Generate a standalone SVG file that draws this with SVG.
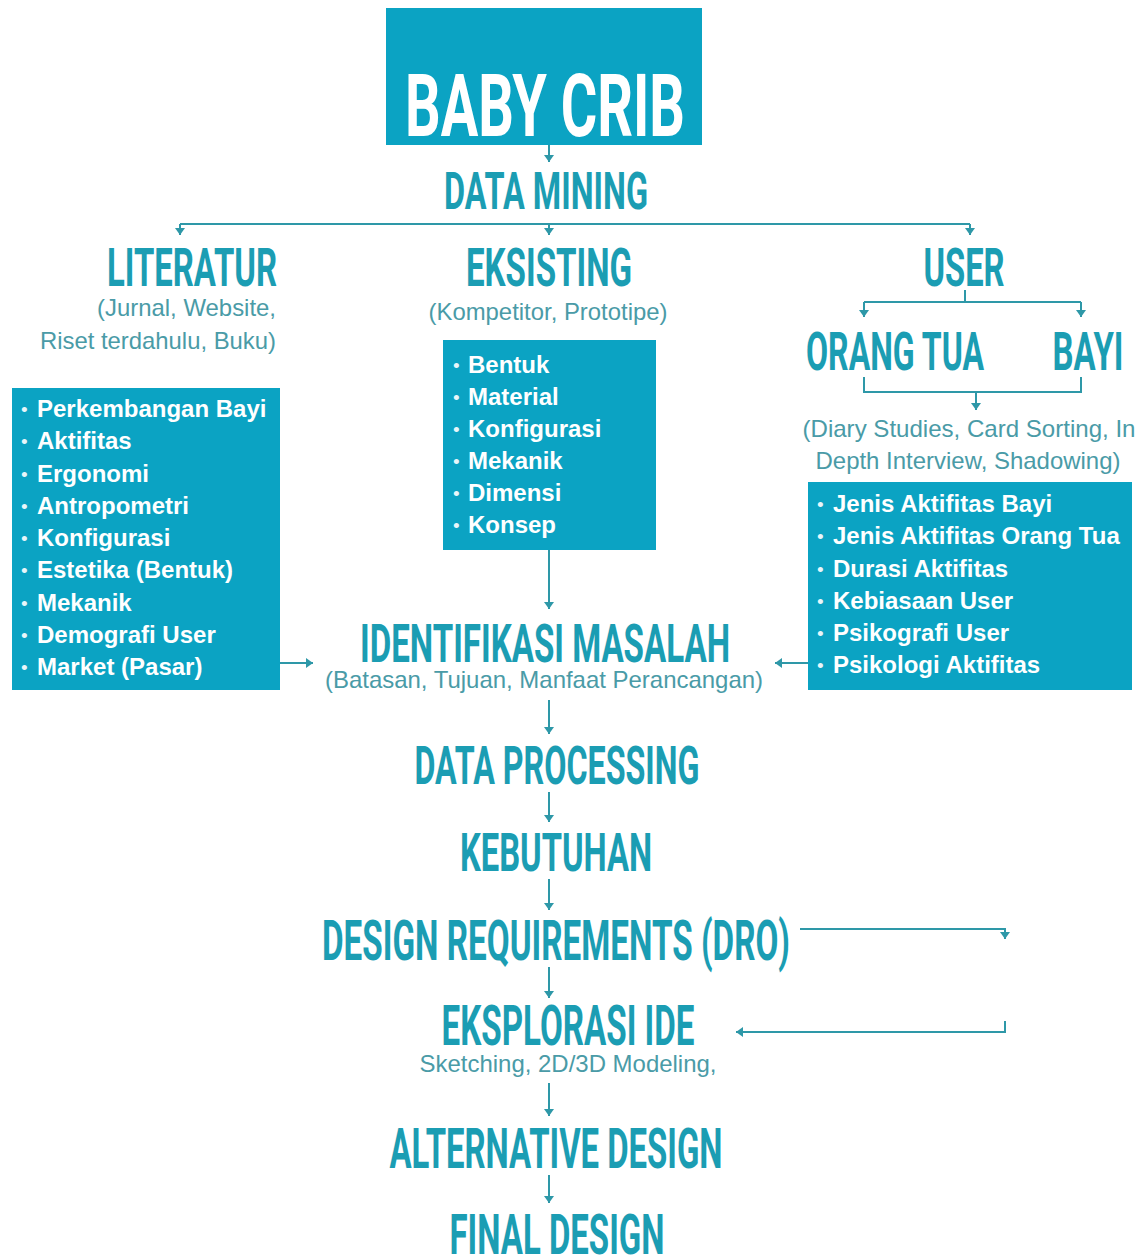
<svg xmlns="http://www.w3.org/2000/svg" width="1144" height="1258" viewBox="0 0 1144 1258">
  <style>
    .box { fill: #0ba3c3; }
    .head { font-family: Roboto, "Liberation Sans", sans-serif; font-weight: 700; fill: #1b9db3; text-anchor: middle; }
    .title { font-family: Roboto, "Liberation Sans", sans-serif; font-weight: 700; fill: #ffffff; text-anchor: middle; }
    .sub { font-family: "Liberation Sans", Arial, sans-serif; font-size: 24px; fill: #4a9ba7; }
    .item { font-family: "Liberation Sans", Arial, sans-serif; font-weight: 700; font-size: 24px; fill: #ffffff; }
    .dot { font-family: "Liberation Sans", Arial, sans-serif; font-size: 19px; fill: #e8f6fa; }
    .conn { fill: none; stroke: #2e98a8; stroke-width: 2; }
  </style>
  <defs>
    <marker id="ah" viewBox="0 0 7 10" refX="7" refY="5" markerWidth="7" markerHeight="10" orient="auto" markerUnits="userSpaceOnUse">
      <path d="M0,0 L7,5 L0,10 z" fill="#2e98a8"/>
    </marker>
  </defs>

  <rect width="1144" height="1258" fill="#ffffff"/>

  <!-- top node -->
  <g id="baby-crib">
    <rect class="box" x="386" y="8" width="316" height="137"/>
    <text class="title" x="545" y="136" font-size="88" textLength="280" lengthAdjust="spacingAndGlyphs">BABY CRIB</text>
  </g>

  <g id="data-mining">
    <text class="head" x="546" y="209" font-size="52" textLength="204" lengthAdjust="spacingAndGlyphs">DATA MINING</text>
  </g>

  <!-- literature branch -->
  <g id="literatur">
    <text class="head" x="192" y="286" font-size="53" textLength="170" lengthAdjust="spacingAndGlyphs">LITERATUR</text>
    <text class="sub" x="276" y="316" text-anchor="end" textLength="179" lengthAdjust="spacingAndGlyphs">(Jurnal, Website,</text>
    <text class="sub" x="276" y="349" text-anchor="end" textLength="236" lengthAdjust="spacingAndGlyphs">Riset terdahulu, Buku)</text>
  </g>
  <g id="literatur-list">
    <rect class="box" x="12" y="388" width="268" height="302"/>
    <g class="dot">
      <text x="21" y="416">•</text><text x="21" y="448">•</text><text x="21" y="481">•</text>
      <text x="21" y="513">•</text><text x="21" y="545">•</text><text x="21" y="577">•</text>
      <text x="21" y="610">•</text><text x="21" y="642">•</text><text x="21" y="674">•</text>
    </g>
    <text class="item" x="37" y="417">Perkembangan Bayi</text>
    <text class="item" x="37" y="449">Aktifitas</text>
    <text class="item" x="37" y="482">Ergonomi</text>
    <text class="item" x="37" y="514">Antropometri</text>
    <text class="item" x="37" y="546">Konfigurasi</text>
    <text class="item" x="37" y="578">Estetika (Bentuk)</text>
    <text class="item" x="37" y="611">Mekanik</text>
    <text class="item" x="37" y="643">Demografi User</text>
    <text class="item" x="37" y="675">Market (Pasar)</text>
  </g>

  <!-- existing products branch -->
  <g id="eksisting">
    <text class="head" x="549" y="286" font-size="53" textLength="166" lengthAdjust="spacingAndGlyphs">EKSISTING</text>
    <text class="sub" x="548" y="320" text-anchor="middle" textLength="239" lengthAdjust="spacingAndGlyphs">(Kompetitor, Prototipe)</text>
  </g>
  <g id="eksisting-list">
    <rect class="box" x="443" y="340" width="213" height="210"/>
    <g class="dot">
      <text x="453" y="372">•</text><text x="453" y="404">•</text><text x="453" y="436">•</text>
      <text x="453" y="468">•</text><text x="453" y="500">•</text><text x="453" y="532">•</text>
    </g>
    <text class="item" x="468" y="373">Bentuk</text>
    <text class="item" x="468" y="405">Material</text>
    <text class="item" x="468" y="437">Konfigurasi</text>
    <text class="item" x="468" y="469">Mekanik</text>
    <text class="item" x="468" y="501">Dimensi</text>
    <text class="item" x="468" y="533">Konsep</text>
  </g>

  <!-- user branch -->
  <g id="user">
    <text class="head" x="964" y="286" font-size="53" textLength="81" lengthAdjust="spacingAndGlyphs">USER</text>
  </g>
  <g id="orang-tua">
    <text class="head" x="895" y="370" font-size="53" textLength="178" lengthAdjust="spacingAndGlyphs">ORANG TUA</text>
  </g>
  <g id="bayi">
    <text class="head" x="1088" y="370" font-size="53" textLength="71" lengthAdjust="spacingAndGlyphs">BAYI</text>
  </g>
  <g id="user-methods">
    <text class="sub" x="969" y="437" text-anchor="middle" textLength="333" lengthAdjust="spacingAndGlyphs">(Diary Studies, Card Sorting, In</text>
    <text class="sub" x="968" y="469" text-anchor="middle" textLength="305" lengthAdjust="spacingAndGlyphs">Depth Interview, Shadowing)</text>
  </g>
  <g id="user-list">
    <rect class="box" x="808" y="482" width="324" height="208"/>
    <g class="dot">
      <text x="817" y="511">•</text><text x="817" y="543">•</text><text x="817" y="576">•</text>
      <text x="817" y="608">•</text><text x="817" y="640">•</text><text x="817" y="672">•</text>
    </g>
    <text class="item" x="833" y="512">Jenis Aktifitas Bayi</text>
    <text class="item" x="833" y="544">Jenis Aktifitas Orang Tua</text>
    <text class="item" x="833" y="577">Durasi Aktifitas</text>
    <text class="item" x="833" y="609">Kebiasaan User</text>
    <text class="item" x="833" y="641">Psikografi User</text>
    <text class="item" x="833" y="673">Psikologi Aktifitas</text>
  </g>

  <!-- main process column -->
  <g id="identifikasi-masalah">
    <text class="head" x="545" y="662" font-size="53" textLength="370" lengthAdjust="spacingAndGlyphs">IDENTIFIKASI MASALAH</text>
    <text class="sub" x="544" y="688" text-anchor="middle" textLength="438" lengthAdjust="spacingAndGlyphs">(Batasan, Tujuan, Manfaat Perancangan)</text>
  </g>
  <g id="data-processing">
    <text class="head" x="557" y="784" font-size="54" textLength="285" lengthAdjust="spacingAndGlyphs">DATA PROCESSING</text>
  </g>
  <g id="kebutuhan">
    <text class="head" x="556" y="871" font-size="54" textLength="192" lengthAdjust="spacingAndGlyphs">KEBUTUHAN</text>
  </g>
  <g id="design-requirements">
    <text class="head" x="556" y="960" font-size="55" textLength="468" lengthAdjust="spacingAndGlyphs">DESIGN REQUIREMENTS (DRO)</text>
  </g>
  <g id="eksplorasi-ide">
    <text class="head" x="568" y="1045" font-size="55" textLength="253" lengthAdjust="spacingAndGlyphs">EKSPLORASI IDE</text>
    <text class="sub" x="568" y="1072" text-anchor="middle" textLength="297" lengthAdjust="spacingAndGlyphs">Sketching, 2D/3D Modeling,</text>
  </g>
  <g id="alternative-design">
    <text class="head" x="556" y="1168" font-size="55" textLength="333" lengthAdjust="spacingAndGlyphs">ALTERNATIVE DESIGN</text>
  </g>
  <g id="final-design">
    <text class="head" x="557" y="1254" font-size="55" textLength="215" lengthAdjust="spacingAndGlyphs">FINAL DESIGN</text>
  </g>

  <!-- connectors -->
  <g id="connectors" class="conn">
    <path d="M549,145 V162" marker-end="url(#ah)"/>
    <path d="M180,224 H970"/>
    <path d="M180,224 V235" marker-end="url(#ah)"/>
    <path d="M549,224 V235" marker-end="url(#ah)"/>
    <path d="M970,224 V235" marker-end="url(#ah)"/>
    <path d="M965,290 V302"/>
    <path d="M864,302 H1081"/>
    <path d="M864,302 V317" marker-end="url(#ah)"/>
    <path d="M1081,302 V317" marker-end="url(#ah)"/>
    <path d="M864,377 V392 H1081 V377"/>
    <path d="M976,392 V410" marker-end="url(#ah)"/>
    <path d="M280,663 H313" marker-end="url(#ah)"/>
    <path d="M549,550 V609" marker-end="url(#ah)"/>
    <path d="M808,663 H775" marker-end="url(#ah)"/>
    <path d="M549,700 V734" marker-end="url(#ah)"/>
    <path d="M549,792 V822" marker-end="url(#ah)"/>
    <path d="M549,879 V910" marker-end="url(#ah)"/>
    <path d="M549,967 V998" marker-end="url(#ah)"/>
    <path d="M800,929 H1005 V939" marker-end="url(#ah)"/>
    <path d="M1005,1021 V1032 H736" marker-end="url(#ah)"/>
    <path d="M549,1083 V1116" marker-end="url(#ah)"/>
    <path d="M549,1175 V1203" marker-end="url(#ah)"/>
  </g>
</svg>
